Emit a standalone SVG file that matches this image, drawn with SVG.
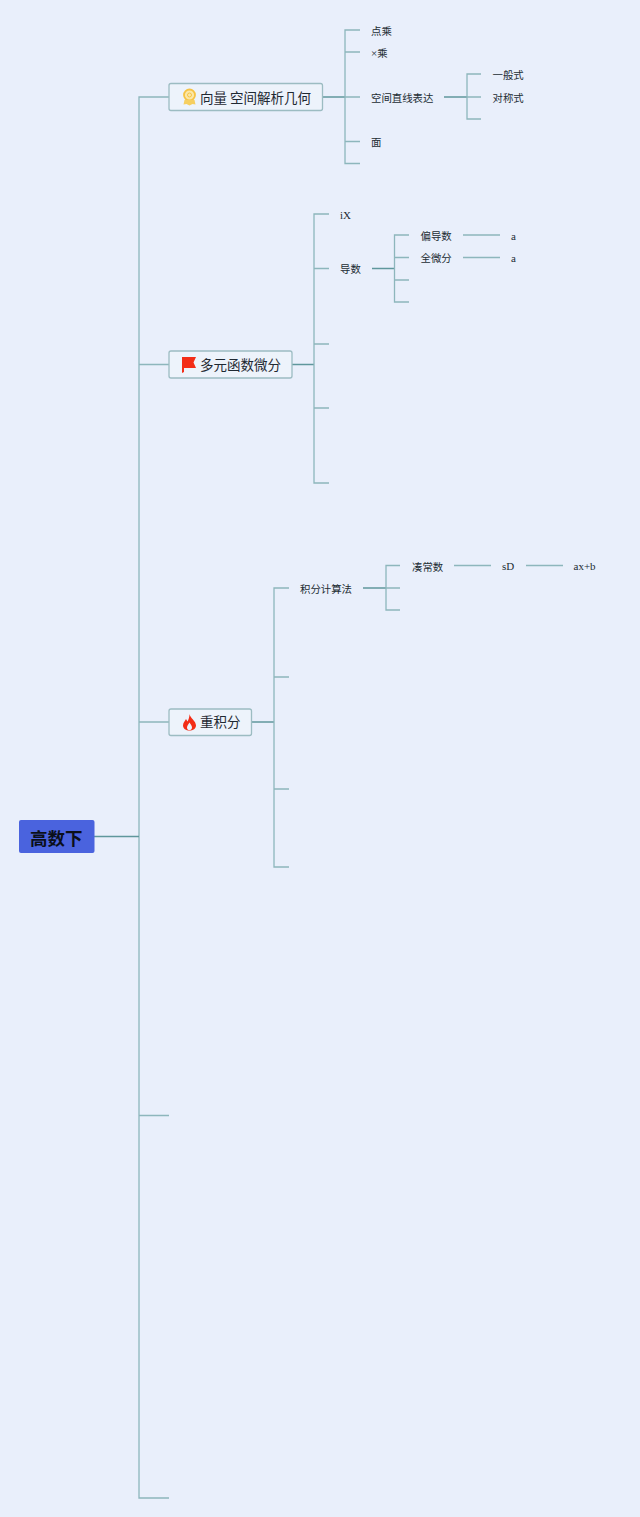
<svg xmlns="http://www.w3.org/2000/svg" width="640" height="1517" viewBox="0 0 640 1517">
<style>
text{font-family:"Noto Sans CJK SC","Liberation Serif",serif;fill:#222c33}
.s{font-size:10.400px}
.l{font-size:11px;font-family:"Liberation Serif","Noto Sans CJK SC",serif}
.m{font-size:13.500px;fill:#1f2933}
.b{fill:#edf3fb;stroke:#9cbcc2;stroke-width:1.300}
#c path{fill:none;stroke:#8db6bc;stroke-width:1.300}
#c path.d{stroke:#5f979c;stroke-width:1.500}
</style>
<rect width="640" height="1517" fill="#e9effb"/>
<g id="c">
<path d="M169 97H139V1498H169M139 364.500H169M139 722H169M139 1115.500H169"/>
<path class="d" d="M94 836.500H139"/>
<path class="d" d="M322 97H345"/>
<path d="M360 30H345V163.500H360M345 52H360M345 97H360M345 141.500H360"/>
<path class="d" d="M444 97H467"/>
<path d="M481 74H467V119H481M467 97H481"/>
<path class="d" d="M292 364.500H314"/>
<path d="M329 214H314V483H329M314 268.500H329M314 344H329M314 408H329"/>
<path class="d" d="M372 268.500H394.500"/>
<path d="M409 235H394.500V302H409M394.500 257.500H409M394.500 280H409"/>
<path d="M463 235H500M463 257.500H500"/>
<path class="d" d="M252 722H274"/>
<path d="M289 588H274V867H289M274 677H289M274 789H289"/>
<path class="d" d="M363 588H386"/>
<path d="M400 565.500H386V610H400M386 588H400"/>
<path d="M454 565.500H491M526 565.500H563"/>
</g>
<g id="root"><rect x="19" y="820" width="75.500" height="33" rx="2" fill="#4a63de"/><text x="30" y="844.500" font-size="17.500" font-weight="700" style="fill:#0b0f1a">高数下</text></g>
<g id="n1"><rect class="b" x="169" y="83.500" width="153.500" height="27" rx="2"/>
<circle cx="189.500" cy="95" r="5.500" fill="#fbe7a8" stroke="#f6c344" stroke-width="1.800"/><circle cx="189.500" cy="95" r="2" fill="none" stroke="#f6c344"/><path d="M184.500 100l-1 4.500 3-.5 3 1.500 3-1.500 3 .5-1-4.500z" fill="#f6cf60"/>
<text class="m" x="200" y="102.500">向量 空间解析几何</text></g>
<g id="n2"><rect class="b" x="169" y="351" width="123" height="27" rx="2"/>
<path d="M182 357H196L193.500 362.500L196 368H184V372L182 373z" fill="#f32d17"/>
<text class="m" x="200" y="370">多元函数微分</text></g>
<g id="n3"><rect class="b" x="169" y="709" width="82.500" height="26.500" rx="2"/>
<path d="M189.500 714C190 718 196 721 196 725.500C196 728.500 193 730.500 189.500 730.500C186 730.500 183 728.500 183 725.500C183 722.500 185 721 186 719C186.500 720 187 720.500 187.500 721.500C188.500 719.500 189.500 717 189.500 714Z" fill="#f32d17"/><path d="M189.500 722.500C190.500 724.500 192 725.500 192 727.500C192 729.500 190.500 730 189.500 730C188 730 187 729.500 187 727.500C187 725.500 188.500 724.500 189.500 722.500Z" fill="#edf3fb"/>
<text class="m" x="200" y="727">重积分</text></g>
<g id="t1"><text class="s" x="371" y="35">点乘</text></g>
<g id="t2"><text class="s" x="371" y="57"><tspan class="l">×</tspan>乘</text></g>
<g id="t3"><text class="s" x="371" y="101.500">空间直线表达</text></g>
<g id="t4"><text class="s" x="371" y="146">面</text></g>
<g id="t5"><text class="s" x="492.500" y="79">一般式</text></g>
<g id="t6"><text class="s" x="492.500" y="101.500">对称式</text></g>
<g id="t7"><text class="l" x="340" y="219">iX</text></g>
<g id="t8"><text class="s" x="340" y="273">导数</text></g>
<g id="t9"><text class="s" x="420.500" y="240">偏导数</text></g>
<g id="t10"><text class="s" x="420.500" y="262">全微分</text></g>
<g id="t11"><text class="l" x="511" y="240">a</text></g>
<g id="t12"><text class="l" x="511" y="262">a</text></g>
<g id="t13"><text class="s" x="300" y="593">积分计算法</text></g>
<g id="t14"><text class="s" x="412" y="570.500">凑常数</text></g>
<g id="t15"><text class="l" x="502" y="570">sD</text></g>
<g id="t16"><text class="l" x="573.500" y="570">ax+b</text></g>
</svg>
